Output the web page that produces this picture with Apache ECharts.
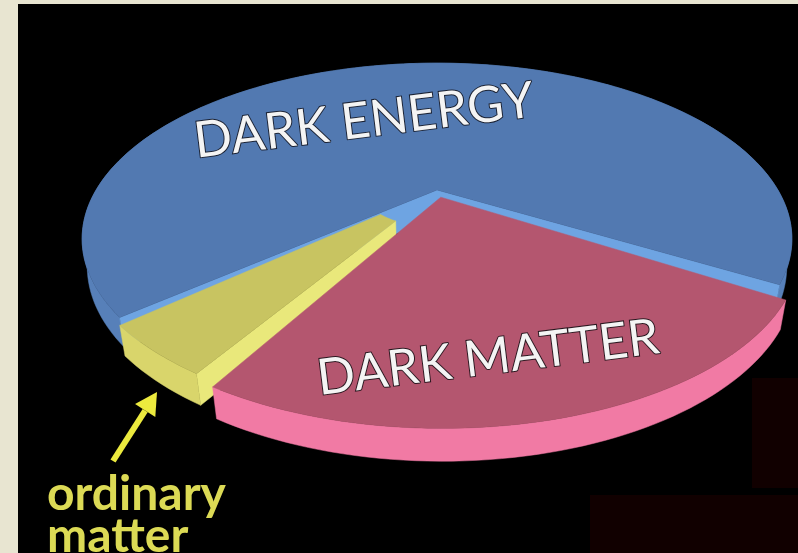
<!DOCTYPE html>
<html>
<head>
<meta charset="utf-8">
<script src="https://cdn.jsdelivr.net/npm/echarts@6/dist/echarts.min.js"></script>
<style>
  html, body { margin: 0; padding: 0; background: #e8e5d1; }
  #stage { position: absolute; left: 18px; top: 4px; width: 780px; height: 549px; background: #000; }
  #chart { position: absolute; left: 0; top: 0; width: 798px; height: 553px; }
</style>
</head>
<body>
<div id="stage"></div>
<div id="chart"></div>
<script>
// Composition of the universe (share of total energy density, %)
const categories = ['DARK MATTER', 'ordinary matter', 'DARK ENERGY'];
const shares = [25, 5, 70];

// Slice styling
const topColors  = ['#b4566f', '#c8c461', '#5279b1'];
const wallColors = ['#f17aa4', '#d9d56b', '#5780b9'];
const cutColors  = ['#f591b5', '#e9e87b', '#6ea4e2'];
const explode    = [0.045, 0.015, 0];
const innerRadius = [0, 0.2, 0];

// Perspective camera looking down on a unit disk
const CX = 437, CY = 190, F = 1079, D = 3.165;
const ALPHA = 28.4 * Math.PI / 180;
const S = Math.sin(ALPHA), C = Math.cos(ALPHA);
const H = 0.09;          // disk thickness
const START = 31;        // start angle, degrees (clockwise on screen)
const PAD = 1.6;         // gap between slices, degrees
const RAD = Math.PI / 180;
const CAM = [0, D * C, D * S];

function project(u, v, z) {
  const yc = v * S - z * C;
  const zc = D - v * C - z * S;
  return [CX + F * u / zc, CY + F * yc / zc, zc];
}

const total = shares.reduce((a, b) => a + b, 0);
const spans = [];
let acc = 0;
shares.forEach(v => {
  spans.push([START + acc / total * 360, START + (acc + v) / total * 360]);
  acc += v;
});

function geom(i) {
  const a0 = (spans[i][0] + PAD / 2) * RAD;
  const a1 = (spans[i][1] - PAD / 2) * RAD;
  const m = (a0 + a1) / 2;
  const ox = explode[i] * Math.cos(m), oy = explode[i] * Math.sin(m);
  const pt = (r, a, z) => project(ox + r * Math.cos(a), oy + r * Math.sin(a), z);
  const arc = (r, b0, b1, z) => {
    const n = Math.max(8, Math.ceil(Math.abs(b1 - b0) / RAD / 1.5));
    const out = [];
    for (let k = 0; k <= n; k++) out.push(pt(r, b0 + (b1 - b0) * k / n, z));
    return out;
  };
  return { a0, a1, ox, oy, r0: innerRadius[i], pt, arc };
}

const xy = pts => pts.map(p => [p[0], p[1]]);
const depth = pts => pts.reduce((s, p) => s + p[2], 0) / pts.length;
const z2Of = pts => Math.round(1000 - depth(pts) * 100);

function renderWalls(params, api) {
  const i = api.value(1);
  const g = geom(i);
  const children = [];
  // outer rim
  const wall = g.arc(1, g.a0, g.a1, 0).concat(g.arc(1, g.a1, g.a0, -H));
  children.push({
    type: 'polygon', z2: z2Of(wall),
    shape: { points: xy(wall) },
    style: { fill: wallColors[i], stroke: wallColors[i], lineWidth: 0.5 }
  });
  // radial cut faces, only those turned towards the camera
  [[g.a0, Math.sin(g.a0), -Math.cos(g.a0)], [g.a1, -Math.sin(g.a1), Math.cos(g.a1)]].forEach(([a, nx, ny]) => {
    const px = g.ox + 0.5 * Math.cos(a), py = g.oy + 0.5 * Math.sin(a);
    const dot = nx * (CAM[0] - px) + ny * (CAM[1] - py);
    if (dot <= 0) return;
    const face = [g.pt(g.r0, a, 0), g.pt(1, a, 0), g.pt(1, a, -H), g.pt(g.r0, a, -H)];
    children.push({
      type: 'polygon', z2: z2Of(face),
      shape: { points: xy(face) },
      style: { fill: cutColors[i], stroke: cutColors[i], lineWidth: 0.5 }
    });
  });
  return { type: 'group', children };
}

function renderTops(params, api) {
  const i = api.value(1);
  const g = geom(i);
  const outer = g.arc(1, g.a0, g.a1, 0);
  const inner = g.r0 > 0 ? g.arc(g.r0, g.a1, g.a0, 0) : [g.pt(0, 0, 0)];
  const pts = outer.concat(inner);
  return {
    type: 'polygon',
    shape: { points: xy(pts) },
    style: { fill: topColors[i], stroke: topColors[i], lineWidth: 0.5 }
  };
}

const sliceData = shares.map((v, i) => [v, i]);

// arrow pointing at the ordinary-matter slice
const tail = [113, 461], tip = [157, 392];
const dl = Math.hypot(tip[0] - tail[0], tip[1] - tail[1]);
const dir = [(tip[0] - tail[0]) / dl, (tip[1] - tail[1]) / dl];
const headLen = 22, headHalf = 12;
const base = [tip[0] - dir[0] * headLen, tip[1] - dir[1] * headLen];
const perp = [-dir[1], dir[0]];

const chart = echarts.init(document.getElementById('chart'), null, { renderer: 'canvas' });
chart.setOption({
  backgroundColor: 'transparent',
  animation: false,
  series: [
    { type: 'custom', coordinateSystem: 'none', renderItem: renderWalls, data: sliceData, z: 2, silent: true },
    { type: 'custom', coordinateSystem: 'none', renderItem: renderTops, data: sliceData, z: 3, silent: true }
  ],
  graphic: [
    { type: 'rect', z: 1, shape: { x: 752, y: 378, width: 46, height: 110 }, style: { fill: '#110000' } },
    { type: 'rect', z: 1, shape: { x: 590, y: 495, width: 208, height: 58 }, style: { fill: '#110000' } },
    {
      type: 'text', z: 100, x: 364, y: 121, rotation: 7 * RAD,
      style: {
        text: categories[2], font: '50px Lato', fill: '#f4f4f4',
        stroke: '#1b2233', lineWidth: 2, strokeFirst: true,
        align: 'center', verticalAlign: 'middle', textAlign: 'center', textVerticalAlign: 'middle'
      }
    },
    {
      type: 'text', z: 100, x: 488, y: 358, rotation: 7 * RAD,
      style: {
        text: categories[0], font: '50px Lato', fill: '#f4f4f4',
        stroke: '#2a1820', lineWidth: 2, strokeFirst: true,
        align: 'center', verticalAlign: 'middle', textAlign: 'center', textVerticalAlign: 'middle'
      }
    },
    {
      type: 'polyline', z: 100,
      shape: { points: [tail, base] },
      style: { stroke: '#ecea3e', lineWidth: 6, fill: null }
    },
    {
      type: 'polygon', z: 100,
      shape: { points: [tip, [base[0] + perp[0] * headHalf, base[1] + perp[1] * headHalf], [base[0] - perp[0] * headHalf, base[1] - perp[1] * headHalf]] },
      style: { fill: '#ecea3e' }
    },
    {
      type: 'text', z: 100, x: 47, y: 474,
      style: {
        text: categories[1].replace(' ', '\n'), font: 'bold 48px Lato', lineHeight: 42,
        fill: '#dcda55', align: 'left', verticalAlign: 'top', textAlign: 'left', textVerticalAlign: 'top'
      }
    }
  ]
});
</script>
</body>
</html>
